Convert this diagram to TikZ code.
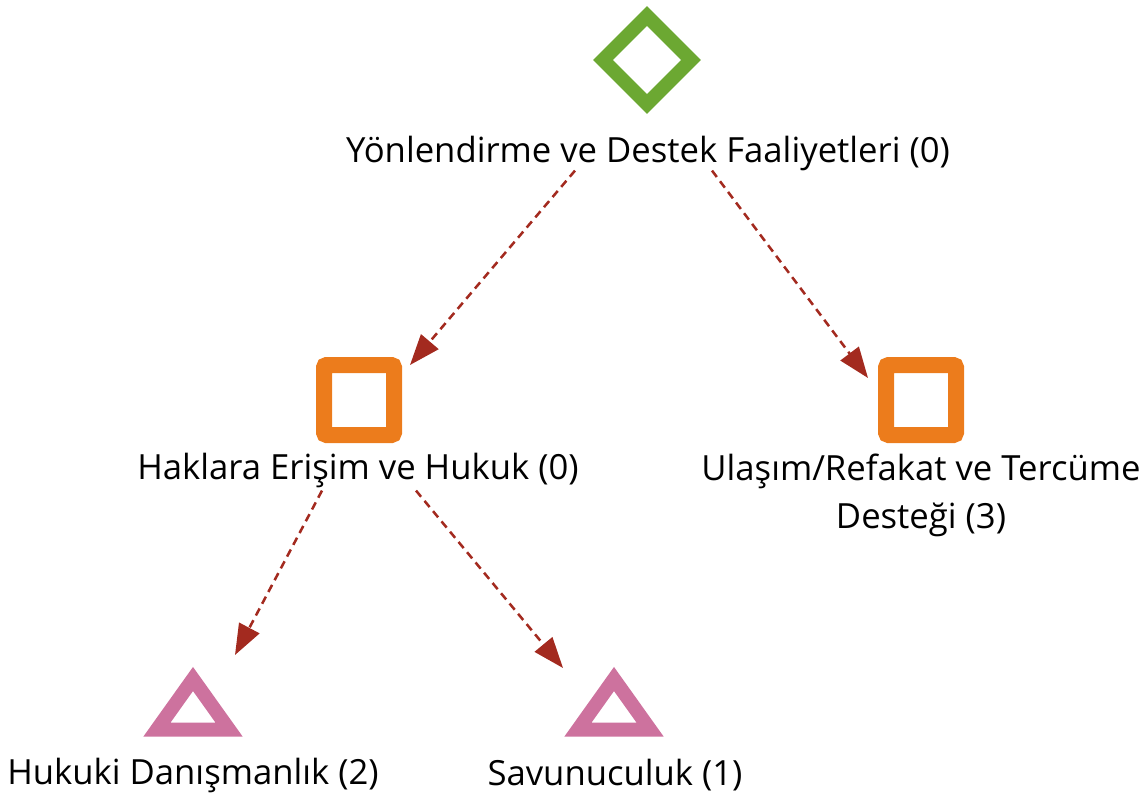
\documentclass[tikz,border=0pt]{standalone}
\usepackage{fontspec}
\setmainfont{Open Sans}
\usetikzlibrary{shapes.geometric,arrows.meta}

\definecolor{nodegreen}{HTML}{6CA832}
\definecolor{nodeorange}{HTML}{EC7C1C}
\definecolor{nodepink}{HTML}{CD729E}
\definecolor{linkred}{HTML}{A32A1F}

\tikzset{
  goal/.style={draw=nodegreen, diamond, aspect=1, line width=10.5pt, minimum size=66pt, inner sep=0pt, outer sep=0pt},
  topic/.style={draw=nodeorange, rectangle, rounded corners=2pt, line width=12pt, minimum size=52.5pt, inner sep=0pt, outer sep=0pt},
  leaf/.style={draw=nodepink, isosceles triangle, isosceles triangle apex angle=71, shape border rotate=90, line width=10.5pt, minimum size=38pt, inner sep=0pt, outer sep=0pt, anchor=apex},
  lbl/.style={font=\fontsize{26}{36}\selectfont, align=center, inner sep=0pt},
  link/.style={draw=linkred, line width=1.9pt, dash pattern=on 6pt off 4pt, -{Triangle[length=23pt,width=17pt]}}
}

\begin{document}
\begin{tikzpicture}[x=0.75pt,y=-0.75pt]
                \useasboundingbox (0,0) rectangle (1148,800);
                \node[goal](yon) at (647,60){};
                \node[lbl](yonlbl) at (648,153){Yönlendirme ve Destek Faaliyetleri (0)};
                \node[topic](hak) at (359,400){};
                \node[lbl](haklbl) at (358,470){Haklara Erişim ve Hukuk (0)};
                \node[topic](ula) at (921,400){};
                \node[lbl](ulalbl) at (921,495){Ulaşım/Refakat ve Tercüme\\Desteği (3)};
                \node[leaf](huk) at (193,679){};
                \node[lbl](huklbl) at (193,775){Hukuki Danışmanlık (2)};
                \node[leaf](sav) at (614,679){};
                \node[lbl](savlbl) at (615,775){Savunuculuk (1)};
                \path[link] ([shift={(-73,0)}]yonlbl.south) -- ([shift={(16,0)}]hak.north east);
                \path[link] ([shift={(64,0)}]yonlbl.south) -- ([shift={(-18,13)}]ula.north west);
                \path[link] ([shift={(-36,3)}]haklbl.south) -- ([shift={(42,-24)}]huk.apex);
                \path[link] ([shift={(58,3)}]haklbl.south) -- ([shift={(-51,-11)}]sav.apex);
                \end{tikzpicture}
\end{document}
